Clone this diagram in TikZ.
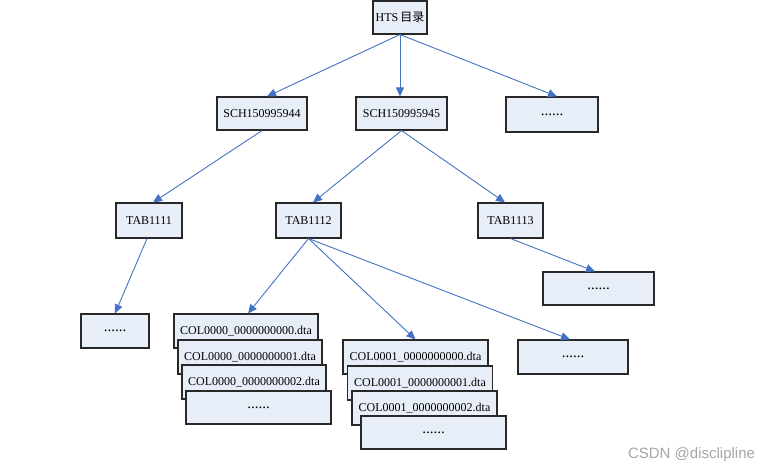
\documentclass[tikz,border=0pt]{standalone}
\usepackage{fontspec}
\setmainfont{Liberation Serif}
\newfontfamily\cjk{Noto Sans CJK SC}
\newfontfamily\wmfont{Liberation Sans}
\usetikzlibrary{arrows.meta}
\definecolor{boxfill}{RGB}{232,238,248}
\definecolor{boxline}{RGB}{40,40,40}
\definecolor{arrowblue}{RGB}{68,114,196}
\definecolor{wmgray}{RGB}{165,165,165}
\tikzset{
  box/.style={draw=boxline, line width=1.1pt, fill=boxfill, inner sep=0pt,
    font=\fontsize{12}{14}\selectfont, text=black},
  dotbox/.style={box, font=\fontsize{15}{14}\selectfont},
  conn/.style={draw=arrowblue, line width=0.9pt,
    -{Triangle[length=9pt,width=8pt]}},
}
\begin{document}
\begin{tikzpicture}[x=1pt,y=-1pt]
\useasboundingbox (0,0) rectangle (775,473);
% level 0
\node[box, minimum width=54pt, minimum height=33pt] (hts) at (400,17.5) {HTS\,{\cjk 目录}};
% level 1
\node[box, minimum width=90pt, minimum height=33pt] (sch44) at (262,113.5) {SCH150995944};
\node[box, minimum width=91pt, minimum height=33pt] (sch45) at (401.5,113.5) {SCH150995945};
\node[dotbox, minimum width=92pt, minimum height=35pt] (dots1) at (552,114.5) {......};
% level 2
\node[box, minimum width=66pt, minimum height=35pt] (tab11) at (149,220.5) {TAB1111};
\node[box, minimum width=65pt, minimum height=35pt] (tab12) at (308.5,220.5) {TAB1112};
\node[box, minimum width=65pt, minimum height=35pt] (tab13) at (510.5,220.5) {TAB1113};
% level 3
\node[dotbox, minimum width=68pt, minimum height=34pt] (dotsL) at (115,331) {......};
\node[dotbox, minimum width=111pt, minimum height=33pt] (dotsR1) at (598.5,288.5) {......};
\node[dotbox, minimum width=110pt, minimum height=34pt] (dotsR2) at (573,357) {......};
% COL0000 stack
\node[box, minimum width=144pt, minimum height=34pt] (c0a) at (246,331) {COL0000\_0000000000.dta};
\node[box, minimum width=144pt, minimum height=34pt] (c0b) at (250,357) {COL0000\_0000000001.dta};
\node[box, minimum width=144pt, minimum height=34pt] (c0c) at (254,382) {COL0000\_0000000002.dta};
\node[dotbox, minimum width=145pt, minimum height=33pt] (c0d) at (258.5,407.5) {......};
% COL0001 stack
\node[box, minimum width=145pt, minimum height=34pt] (c1a) at (415.5,357) {COL0001\_0000000000.dta};
\node[box, minimum width=145pt, minimum height=34pt] (c1b) at (420,383) {COL0001\_0000000001.dta};
\node[box, minimum width=145pt, minimum height=34pt] (c1c) at (424.5,408) {COL0001\_0000000002.dta};
\node[dotbox, minimum width=145pt, minimum height=33pt] (c1d) at (433.5,432.5) {......};
% connectors
\draw[conn] (hts.south) -- ([xshift=5pt]sch44.north);
\draw[conn] (hts.south) -- ([xshift=-1.5pt]sch45.north);
\draw[conn] (hts.south) -- ([xshift=5pt]dots1.north);
\draw[conn] (sch44.south) -- ([xshift=4pt]tab11.north);
\draw[conn] (sch45.south) -- ([xshift=4.5pt]tab12.north);
\draw[conn] (sch45.south) -- ([xshift=-5.5pt]tab13.north);
\draw[conn] ([xshift=-2pt]tab11.south) -- (dotsL.north);
\draw[conn] (tab12.south) -- ([xshift=2pt]c0a.north);
\draw[conn] (tab12.south) -- (c1a.north);
\draw[conn] (tab12.south) -- ([xshift=-3pt]dotsR2.north);
\draw[conn] (tab13.south) -- ([xshift=-3.5pt]dotsR1.north);
% watermark
\node[text=wmgray, font=\wmfont\fontsize{15}{17}\selectfont, inner sep=0pt] (wm) at (691.5,455) {CSDN @disclipline};
\end{tikzpicture}
\end{document}
